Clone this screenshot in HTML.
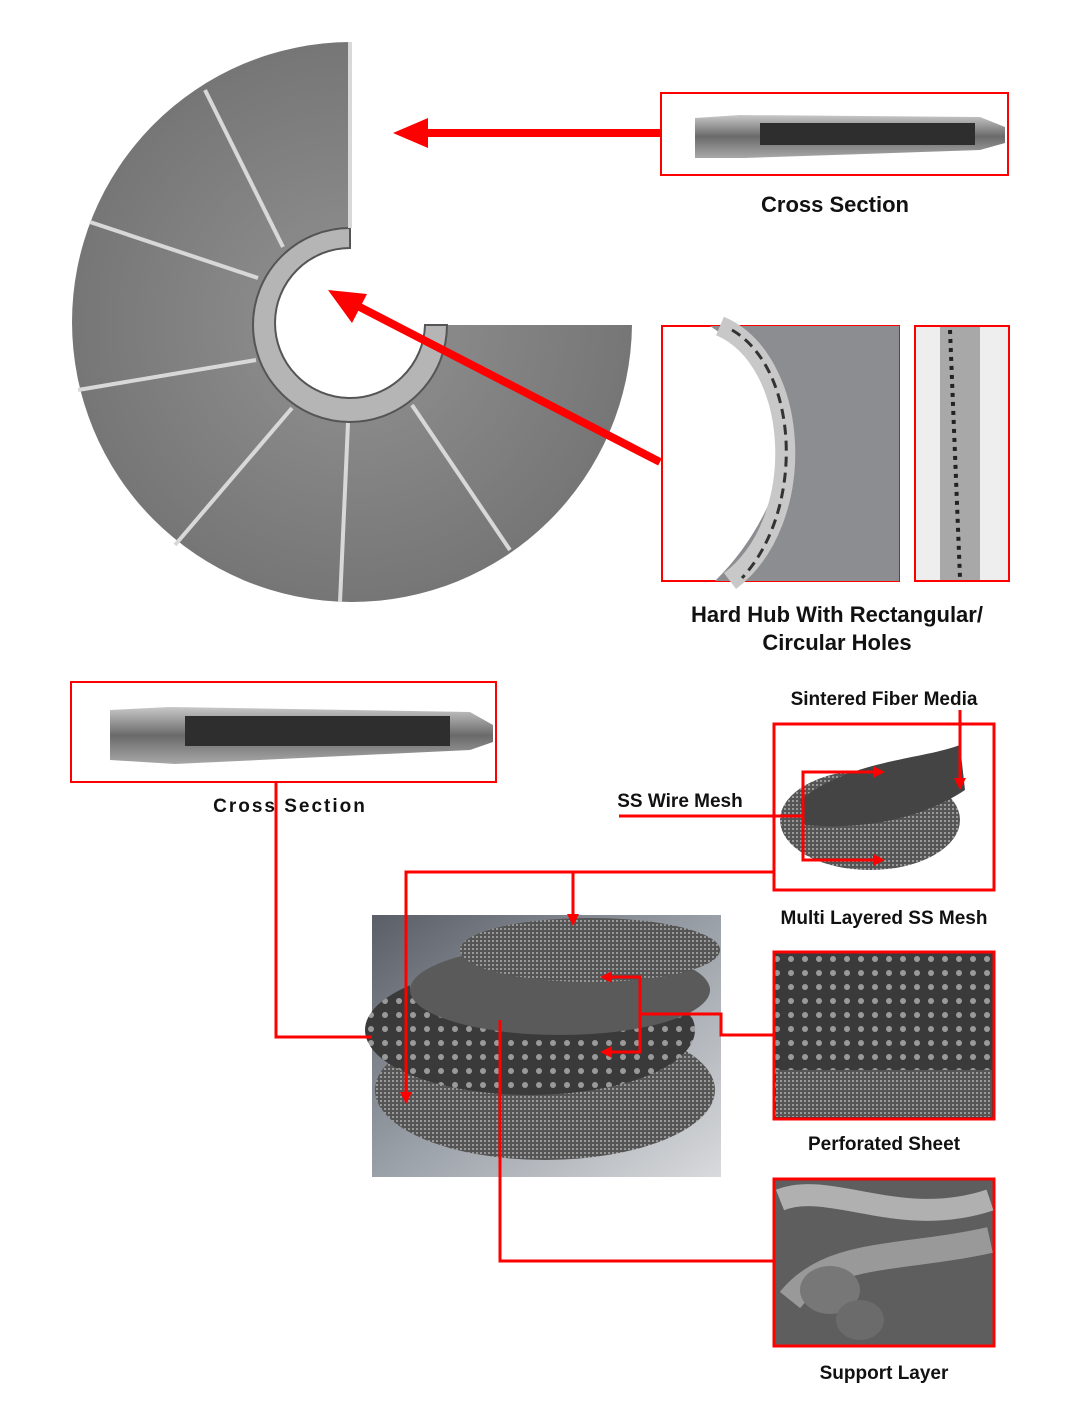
<!DOCTYPE html>
<html><head><meta charset="utf-8"><style>
html,body{margin:0;padding:0;background:#fff;}
svg{display:block;}
text{font-family:"Liberation Sans",sans-serif;font-weight:bold;fill:#111;}
</style></head><body>
<svg width="1080" height="1425" viewBox="0 0 1080 1425" xmlns="http://www.w3.org/2000/svg">
<defs>
<radialGradient id="disc" cx="0.5" cy="0.5" r="0.5">
<stop offset="0.3" stop-color="#8a8a8a"/><stop offset="1" stop-color="#767676"/>
</radialGradient>
<linearGradient id="photo" x1="0" y1="0" x2="1" y2="1">
<stop offset="0" stop-color="#5a5e66"/><stop offset="0.5" stop-color="#9aa0a8"/><stop offset="1" stop-color="#d8dadc"/>
</linearGradient>
<linearGradient id="metal" x1="0" y1="0" x2="0" y2="1">
<stop offset="0" stop-color="#c8c8c8"/><stop offset="0.5" stop-color="#6a6a6a"/><stop offset="1" stop-color="#a8a8a8"/>
</linearGradient>
<pattern id="holes" width="14" height="14" patternUnits="userSpaceOnUse">
<rect width="14" height="14" fill="#3a3a3a"/><circle cx="7" cy="7" r="3" fill="#9a9a9a"/>
</pattern>
<pattern id="mesh" width="4" height="4" patternUnits="userSpaceOnUse">
<rect width="4" height="4" fill="#555"/><rect width="2" height="2" fill="#999"/>
</pattern>
</defs>

<path d="M350,42 A280,280 0 1 0 632,325 L425,325 A75,75 0 1 1 350,248 Z" fill="url(#disc)"/>
<path d="M350,228 A97,97 0 1 0 447,325 L425,325 A75,75 0 1 1 350,248 Z" fill="#b5b5b5" stroke="#555" stroke-width="2"/>
<g stroke="#d8d8d8" stroke-width="4">
<line x1="205" y1="90" x2="283" y2="247"/>
<line x1="90" y1="222" x2="258" y2="278"/>
<line x1="78" y1="390" x2="256" y2="360"/>
<line x1="175" y1="545" x2="292" y2="408"/>
<line x1="340" y1="602" x2="348" y2="423"/>
<line x1="510" y1="550" x2="412" y2="405"/>
<line x1="350" y1="228" x2="350" y2="42"/>
</g>

<line x1="660" y1="133" x2="420" y2="133" stroke="#f00" stroke-width="8"/>
<polygon points="393,133 428,118 428,148" fill="#f00"/>
<line x1="660" y1="462" x2="350" y2="302" stroke="#f00" stroke-width="8"/>
<polygon points="328,290 367,294 352,323" fill="#f00"/>

<rect x="661" y="93" width="347" height="82" fill="#fff" stroke="#f00" stroke-width="2"/>
<path d="M695,118 L740,115 L980,117 L1005,127 L1005,143 L980,150 L745,158 L695,158 Z" fill="url(#metal)"/>
<rect x="760" y="123" width="215" height="22" fill="#2e2e2e"/>
<text x="835" y="212" font-size="22" text-anchor="middle">Cross Section</text>

<rect x="662" y="326" width="237" height="255" fill="#fff" stroke="#f00" stroke-width="2"/>
<path d="M710,326 L899,326 L899,581 L715,581 A260,260 0 0 0 790,430 A200,200 0 0 0 710,326 Z" fill="#8b8d90"/>
<path d="M720,326 C800,360 810,520 730,581" fill="none" stroke="#c8c8c8" stroke-width="20"/>
<path d="M732,330 C800,370 805,510 742,578" fill="none" stroke="#333" stroke-width="3" stroke-dasharray="10,6"/>
<rect x="915" y="326" width="94" height="255" fill="#eee" stroke="#f00" stroke-width="2"/>
<rect x="940" y="327" width="40" height="253" fill="#a8a8a8"/>
<line x1="950" y1="330" x2="960" y2="578" stroke="#222" stroke-width="4" stroke-dasharray="4,5"/>
<text x="837" y="622" font-size="22" text-anchor="middle">Hard Hub With Rectangular/</text>
<text x="837" y="650" font-size="22" text-anchor="middle">Circular Holes</text>

<rect x="71" y="682" width="425" height="100" fill="#fff" stroke="#f00" stroke-width="2"/>
<path d="M110,710 L170,707 L470,712 L493,725 L493,742 L470,750 L175,764 L110,760 Z" fill="url(#metal)"/>
<rect x="185" y="716" width="265" height="30" fill="#2e2e2e"/>
<text x="290" y="812" font-size="19" text-anchor="middle" letter-spacing="2">Cross Section</text>

<!-- Main photo -->
<rect x="372" y="915" width="349" height="262" fill="url(#photo)"/>
<ellipse cx="545" cy="1090" rx="170" ry="70" fill="url(#mesh)"/>
<ellipse cx="530" cy="1030" rx="165" ry="65" fill="url(#holes)"/>
<ellipse cx="560" cy="990" rx="150" ry="45" fill="#5a5a5a"/>
<ellipse cx="590" cy="950" rx="130" ry="32" fill="url(#mesh)"/>

<!-- Multi layer box -->
<text x="884" y="705" font-size="19" text-anchor="middle">Sintered Fiber Media</text>
<text x="680" y="807" font-size="19" text-anchor="middle">SS Wire Mesh</text>
<rect x="774" y="724" width="220" height="166" fill="#fff" stroke="#f00" stroke-width="3"/>
<ellipse cx="870" cy="820" rx="90" ry="50" fill="url(#mesh)"/>
<path d="M800,800 C850,760 920,760 960,745 L965,790 C920,820 860,830 805,825 Z" fill="#444"/>
<text x="884" y="924" font-size="19" text-anchor="middle">Multi Layered SS Mesh</text>

<rect x="774" y="952" width="220" height="167" fill="url(#holes)" stroke="#f00" stroke-width="3"/>
<rect x="776" y="1070" width="216" height="47" fill="url(#mesh)"/>
<text x="884" y="1150" font-size="19" text-anchor="middle">Perforated Sheet</text>

<rect x="774" y="1179" width="220" height="167" fill="#5e5e5e" stroke="#f00" stroke-width="3"/>
<path d="M780,1200 C830,1180 900,1230 990,1200" stroke="#b0b0b0" stroke-width="22" fill="none"/>
<path d="M790,1300 C830,1250 900,1260 990,1240" stroke="#999" stroke-width="26" fill="none"/>
<ellipse cx="830" cy="1290" rx="30" ry="24" fill="#777"/>
<ellipse cx="860" cy="1320" rx="24" ry="20" fill="#6b6b6b"/>
<text x="884" y="1379" font-size="19" text-anchor="middle">Support Layer</text>

<!-- Red connectors on top -->
<g stroke="#f00" stroke-width="3" fill="none">
<polyline points="276,783 276,1037 372,1037"/>
<polyline points="773,872 406,872 406,1100"/>
<line x1="573" y1="872" x2="573" y2="922"/>
<line x1="619" y1="816" x2="803" y2="816"/>
<polyline points="803,816 803,772 880,772"/>
<polyline points="803,816 803,860 880,860"/>
<line x1="960" y1="710" x2="960" y2="785"/>
<polyline points="773,1035 721,1035 721,1014 640,1014"/>
<polyline points="605,977 640,977 640,1052 605,1052"/>
<polyline points="500,1020 500,1261 773,1261"/>
</g>
<polygon points="406,1104 400,1092 412,1092" fill="#f00"/>
<polygon points="573,926 567,914 579,914" fill="#f00"/>
<polygon points="600,977 612,971 612,983" fill="#f00"/>
<polygon points="600,1052 612,1046 612,1058" fill="#f00"/>
<polygon points="885,772 873,766 873,778" fill="#f00"/>
<polygon points="885,860 873,854 873,866" fill="#f00"/>
<polygon points="960,790 954,778 966,778" fill="#f00"/>
</svg>
</body></html>
